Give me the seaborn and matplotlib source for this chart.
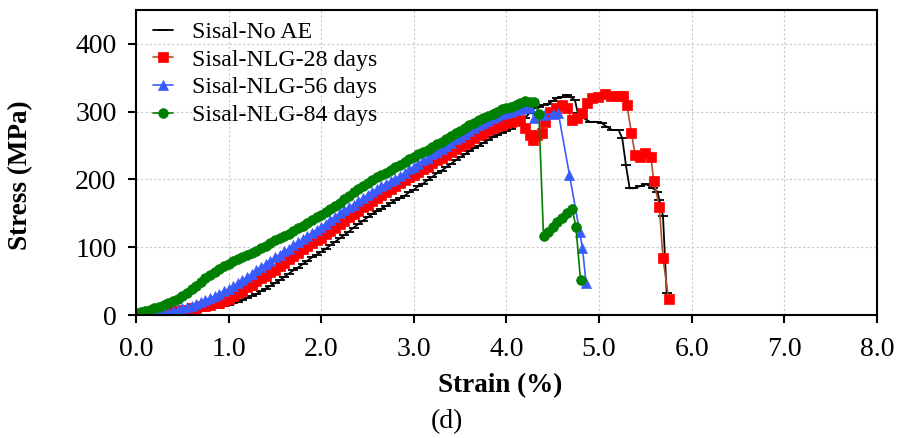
import matplotlib
matplotlib.use("Agg")
import matplotlib.pyplot as plt
import seaborn as sns
import pandas as pd

# ---------------- data ----------------
strain_grid = [0.00, 0.05, 0.10, 0.15, 0.20, 0.25, 0.30, 0.35, 0.40, 0.45,
               0.50, 0.55, 0.60, 0.65, 0.70, 0.75, 0.80, 0.85, 0.90, 0.95,
               1.00, 1.05, 1.10, 1.15, 1.20, 1.25, 1.30, 1.35, 1.40, 1.45,
               1.50, 1.55, 1.60, 1.65, 1.70, 1.75, 1.80, 1.85, 1.90, 1.95,
               2.00, 2.05, 2.10, 2.15, 2.20, 2.25, 2.30, 2.35, 2.40, 2.45,
               2.50, 2.55, 2.60, 2.65, 2.70, 2.75, 2.80, 2.85, 2.90, 2.95,
               3.00, 3.05, 3.10, 3.15, 3.20, 3.25, 3.30, 3.35, 3.40, 3.45,
               3.50, 3.55, 3.60, 3.65, 3.70, 3.75, 3.80, 3.85, 3.90, 3.95,
               4.00, 4.05, 4.10, 4.15, 4.20, 4.25, 4.30, 4.35, 4.40, 4.45,
               4.50, 4.55, 4.60, 4.65]

# Sisal-No AE
noae_stress = [0, 0, 0, 1, 1, 1, 2, 2, 3, 3,
               4, 5, 5, 6, 7, 8, 9, 10, 11, 13,
               15, 17, 19, 22, 25, 28, 31, 35, 39, 43,
               47, 51, 56, 61, 66, 70, 75, 80, 85, 89,
               93, 98, 103, 108, 113, 118, 123, 129, 134, 139,
               144, 149, 153, 157, 161, 165, 169, 172, 176, 181,
               185, 190, 194, 199, 204, 209, 213, 218, 223, 228,
               233, 237, 242, 246, 250, 254, 258, 262, 265, 268,
               271, 275, 280, 286, 291, 298, 305, 307, 310, 312,
               316, 320, 322, 325]
noae_tail_strain = [4.69, 4.74, 4.77, 4.83, 4.90, 4.98, 5.03, 5.08, 5.14, 5.21,
                    5.25, 5.29, 5.33, 5.37, 5.44, 5.51, 5.58, 5.63, 5.65, 5.69, 5.73]
noae_tail_stress = [322, 317, 298, 291, 285, 285, 283, 278, 273, 273,
                    261, 221, 187, 187, 190, 193, 187, 182, 170, 146, 32]

# Sisal-NLG-28 days
d28_stress = [0, 1, 1, 2, 2, 3, 3, 4, 5, 6,
              7, 8, 10, 11, 13, 14, 15, 17, 18, 21,
              24, 28, 32, 36, 41, 45, 50, 54, 58, 63,
              67, 72, 77, 82, 87, 92, 97, 102, 106, 110,
              114, 119, 124, 129, 134, 139, 144, 149, 154, 159,
              163, 168, 172, 177, 181, 186, 190, 195, 199, 203,
              207, 211, 215, 219, 224, 228, 232, 236, 241, 245,
              249, 253, 257, 261, 265, 269, 273, 276, 279, 281,
              283, 285, 287, 288]
d28_tail_strain = [4.20, 4.25, 4.29, 4.33, 4.38, 4.42, 4.47, 4.53, 4.60, 4.65,
                   4.71, 4.76, 4.82, 4.87, 4.92, 4.99, 5.06, 5.13, 5.21, 5.26,
                   5.30, 5.35, 5.39, 5.44, 5.50, 5.56, 5.59, 5.65, 5.69, 5.75]
d28_tail_stress = [276, 266, 258, 265, 268, 285, 300, 306, 310, 305,
                   288, 291, 298, 313, 320, 322, 326, 323, 323, 323,
                   310, 268, 236, 233, 239, 233, 198, 160, 84, 24]

# Sisal-NLG-56 days
d56_stress = [0, 0, 1, 1, 2, 2, 3, 4, 6, 8,
              10, 12, 14, 16, 19, 22, 25, 28, 31, 35,
              39, 43, 47, 51, 56, 61, 66, 71, 75, 80,
              85, 89, 94, 98, 103, 107, 112, 116, 121, 126,
              130, 135, 140, 145, 150, 155, 159, 163, 168, 172,
              177, 181, 186, 190, 194, 197, 201, 205, 210, 215,
              219, 223, 228, 232, 237, 241, 245, 250, 254, 259,
              263, 267, 272, 276, 280, 284, 287, 290, 293, 296,
              298, 300, 302, 304, 306, 307]
d56_tail_strain = [4.30, 4.40, 4.50, 4.56, 4.68, 4.79, 4.82, 4.86]
d56_tail_stress = [291, 295, 297, 298, 207, 123, 99, 47]

# Sisal-NLG-84 days
d84_stress = [3, 4, 6, 8, 10, 12, 15, 18, 21, 24,
              28, 33, 38, 43, 48, 54, 59, 64, 68, 72,
              75, 79, 82, 85, 88, 92, 95, 99, 102, 106,
              110, 113, 117, 120, 124, 128, 132, 136, 140, 144,
              148, 152, 157, 161, 166, 171, 176, 181, 186, 191,
              195, 199, 203, 207, 210, 214, 218, 222, 226, 230,
              233, 237, 240, 244, 248, 252, 256, 260, 264, 268,
              272, 276, 280, 284, 288, 291, 294, 297, 300, 304,
              306, 307, 310, 313, 316, 315, 315]
d84_tail_strain = [4.35, 4.40, 4.45, 4.50, 4.55, 4.60, 4.65, 4.71, 4.75, 4.80]
d84_tail_stress = [297, 117, 123, 130, 137, 143, 150, 157, 130, 51]

series_names = ["Sisal-No AE", "Sisal-NLG-28 days", "Sisal-NLG-56 days", "Sisal-NLG-84 days"]
x_ticks = [0, 1, 2, 3, 4, 5, 6, 7, 8]
x_tick_labels = ["0.0", "1.0", "2.0", "3.0", "4.0", "5.0", "6.0", "7.0", "8.0"]
y_ticks = [0, 100, 200, 300, 400]
y_tick_labels = ["0", "100", "200", "300", "400"]


def build(name, stress, tail_x, tail_y):
    xs = strain_grid[:len(stress)] + tail_x
    ys = stress + tail_y
    return pd.DataFrame({"strain": xs, "stress": ys, "series": name})


frames = [
    build(series_names[0], noae_stress, noae_tail_strain, noae_tail_stress),
    build(series_names[1], d28_stress, d28_tail_strain, d28_tail_stress),
    build(series_names[2], d56_stress, d56_tail_strain, d56_tail_stress),
    build(series_names[3], d84_stress, d84_tail_strain, d84_tail_stress),
]

styles = [
    dict(color="black", marker="_", markersize=7, markeredgewidth=1.3,
         markeredgecolor="black", linewidth=1.3),
    dict(color="#b0502a", marker="s", markersize=7, markerfacecolor="#ff0000",
         markeredgecolor="#ff0000", markeredgewidth=0.5, linewidth=1.2),
    dict(color="#3a5cff", marker="^", markersize=7.5, markerfacecolor="#3a5cff",
         markeredgecolor="#3a5cff", markeredgewidth=0.5, linewidth=1.2),
    dict(color="#007f00", marker="o", markersize=7, markerfacecolor="#008000",
         markeredgecolor="#008000", markeredgewidth=0.5, linewidth=1.2),
]

# ---------------- figure ----------------
sns.set_theme(style="white")
plt.rcParams['font.family'] = ['Liberation Serif', 'DejaVu Serif']

fig = plt.figure(figsize=(9.01, 4.38), dpi=100)
ax = fig.add_axes([0.1509, 0.2808, 0.8224, 0.6963])

for df, name, st in zip(frames, series_names, styles):
    sns.lineplot(data=df, x="strain", y="stress", ax=ax, sort=False,
                 estimator=None, label=name, **st)

ax.set_xlim(0, 8)
ax.set_ylim(0, 450)
ax.set_xticks(x_ticks)
ax.set_xticklabels(x_tick_labels)
ax.set_yticks(y_ticks)
ax.set_yticklabels(y_tick_labels)

ax.grid(True, color="#c8c8c8", linestyle=(0, (2, 2)), linewidth=0.8)
ax.set_axisbelow(True)

for sp in ax.spines.values():
    sp.set_visible(True)
    sp.set_color("black")
    sp.set_linewidth(1.5)

ax.tick_params(axis="both", which="major", direction="out", length=6, width=1.5,
               color="black", labelsize=20, labelcolor="black",
               bottom=True, left=True, top=False, right=False)
ax.tick_params(axis="x", pad=10)
ax.tick_params(axis="y", pad=8)

ax.set_xlabel("Strain (%)", fontsize=19.5, fontweight="bold", color="black")
ax.set_ylabel("Stress (MPa)", fontsize=19.5, fontweight="bold", color="black")
ax.xaxis.set_label_coords(0.491, -0.19)
ax.yaxis.set_label_coords(-0.139, 0.46)

leg = ax.legend(loc="upper left", bbox_to_anchor=(0.001, 1.018), frameon=False,
                fontsize=17.2, handlelength=0.8, handletextpad=0.8,
                labelspacing=0.25, borderaxespad=0.3, numpoints=1)
for t in leg.get_texts():
    t.set_color("black")

fig.text(0.496, 0.037, "(d)", fontsize=20, ha="center", va="center", color="black")

fig.savefig("out.png", dpi=100)
